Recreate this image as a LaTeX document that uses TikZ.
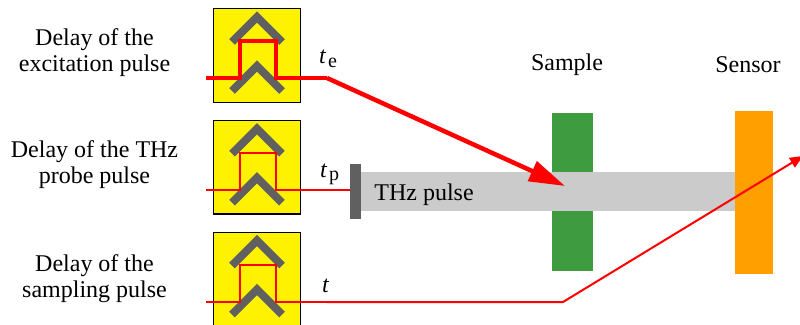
\documentclass[tikz,border=0pt]{standalone}
\usepackage{fontspec}
\setmainfont{Liberation Serif}
\usetikzlibrary{arrows.meta}
\definecolor{chevgray}{HTML}{606060}
\definecolor{samplegreen}{RGB}{63,155,63}
\definecolor{beamgray}{RGB}{203,203,203}
\definecolor{sensororange}{RGB}{255,159,0}
\begin{document}
\begin{tikzpicture}[x=1pt,y=-1pt,
    lbl/.style={font=\fontsize{24}{26}\selectfont,align=center,inner sep=0pt},
    sublbl/.style={font=\fontsize{24}{26}\selectfont,inner sep=0pt,anchor=base west},
    delaybox/.style={draw=black,line width=1.4pt,fill=yellow,minimum width=87pt,minimum height=93.5pt,inner sep=0pt,anchor=north west},
    block/.style={inner sep=0pt,anchor=north west},
    chevron/.style={draw=chevgray,line width=8pt,miter limit=10},
    pulse/.style={draw=red,line width=#1}]
    \useasboundingbox (0,0) rectangle (800,324);
    \node[block,fill=samplegreen,minimum width=41pt,minimum height=158pt] (sample) at (552,113) {};
    \node[block,fill=beamgray,minimum width=374pt,minimum height=39pt] (beam) at (361,172) {};
    \node[block,fill=sensororange,minimum width=38pt,minimum height=163pt] (sensor) at (735,111) {};
    \node[block,fill=chevgray,minimum width=11pt,minimum height=55pt] (emitter) at (350,164) {};
    \foreach \n/\y/\b/\w in {e/8/78/4pt,p/119.7/190/2pt,s/231.5/302/2pt} {
      \node[delaybox] (box\n) at (213,\y) {};
      \draw[chevron] (232,\y+34) -- (257,\y+9) -- (282,\y+34);
      \draw[chevron] (232,\y+83) -- (257,\y+58) -- (282,\y+83);
      \coordinate (in\n) at (206,\b);
      \coordinate (out\n) at (327,\b);
      \draw[pulse=\w] (in\n) -- (240,\b) -- (240,\b-37) -- (276,\b-37) -- (276,\b) -- (out\n);
    }
    \coordinate (tipe) at (565,186);
    \coordinate (kinks) at (563,302);
    \coordinate (tips) at (803,156);
    \draw[pulse=4.5pt,-{Triangle[length=36pt,width=21pt]}] (oute) -- (tipe);
    \draw[pulse=2pt] (outp) -- (emitter.west |- outp);
    \draw[pulse=2pt,-{Triangle[length=13pt,width=11pt]}] (outs) -- (kinks) -- (tips);
    \node[lbl] (labe) at (94.5,53) {Delay of the\\excitation pulse};
    \node[lbl] (labp) at (94.5,165) {Delay of the THz\\probe pulse};
    \node[lbl] (labs) at (94.5,279) {Delay of the\\sampling pulse};
    \node[sublbl] (te) at (319,63) {\textit{t}};
    \node[sublbl,font=\fontsize{20}{24}\selectfont] (tesub) at (328,67) {e};
    \node[sublbl] (tp) at (320,177) {\textit{t}};
    \node[sublbl,font=\fontsize{20}{24}\selectfont] (tpsub) at (329,180) {p};
    \node[sublbl] (ts) at (322,292) {\textit{t}};
    \node[lbl] (labbeam) at (424,195) {THz pulse};
    \node[lbl] (labsample) at (567,65) {Sample};
    \node[lbl] (labsensor) at (748,65) {Sensor};
\end{tikzpicture}
\end{document}
